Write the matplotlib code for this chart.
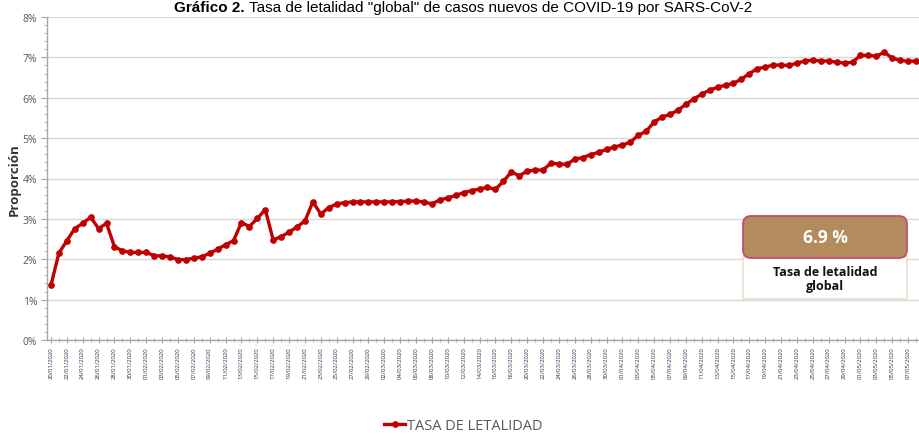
import matplotlib
matplotlib.use('Agg')
import matplotlib.pyplot as plt
import pandas as pd
import numpy as np
from matplotlib.patches import FancyBboxPatch, Rectangle
from matplotlib.ticker import MultipleLocator, FuncFormatter

# ---------------- data ----------------
dates = pd.date_range('2020-01-20', periods=110, freq='D')
date_labels = [d.strftime('%d/%m/%Y') for d in dates]

tasa = [
    1.36, 2.15, 2.46, 2.76, 2.89, 3.04, 2.76, 2.89, 2.31, 2.21,
    2.17, 2.17, 2.17, 2.09, 2.08, 2.06, 1.99, 1.99, 2.03, 2.06,
    2.15, 2.25, 2.36, 2.46, 2.91, 2.81, 3.01, 3.23, 2.48, 2.56,
    2.67, 2.80, 2.95, 3.42, 3.12, 3.28, 3.37, 3.40, 3.42, 3.42,
    3.42, 3.42, 3.42, 3.42, 3.43, 3.44, 3.44, 3.42, 3.37, 3.47,
    3.52, 3.58, 3.65, 3.70, 3.74, 3.78, 3.73, 3.93, 4.16, 4.07,
    4.18, 4.21, 4.21, 4.38, 4.36, 4.35, 4.48, 4.52, 4.59, 4.65,
    4.72, 4.78, 4.83, 4.90, 5.07, 5.17, 5.40, 5.52, 5.59, 5.69,
    5.84, 5.97, 6.09, 6.19, 6.26, 6.31, 6.36, 6.46, 6.60, 6.72,
    6.76, 6.81, 6.81, 6.80, 6.86, 6.91, 6.93, 6.91, 6.91, 6.88,
    6.86, 6.88, 7.05, 7.05, 7.03, 7.13, 6.98, 6.93, 6.90, 6.91,
]
series_name = 'TASA DE LETALIDAD'
title_bold = 'Gráfico 2.'
title_rest = ' Tasa de letalidad "global" de casos nuevos de COVID-19 por SARS-CoV-2'
y_label = 'Proporción'
box_caption = 'Tasa de letalidad\nglobal'
y_max = 8

# ---------------- figure ----------------
plt.rcParams['font.family'] = ['Open Sans', 'DejaVu Sans']
W, H = 9.2, 4.35
fig = plt.figure(figsize=(W, H), dpi=100)
ax = fig.add_axes([47 / 920, 1 - 341 / 435, 873 / 920, (341 - 18) / 435])

x = np.arange(len(tasa))
ax.plot(x, tasa, color='#C00000', lw=2.4, marker='o', ms=3.8,
        label=series_name, zorder=3, clip_on=False)

ax.set_xlim(-0.5, 109.5)
ax.set_ylim(0, y_max)
ax.yaxis.set_major_locator(MultipleLocator(1))
ax.yaxis.set_minor_locator(MultipleLocator(0.2))
ax.yaxis.set_major_formatter(FuncFormatter(lambda v, p: f'{v:.0f}%'))
ax.set_xticks(x[::2])
ax.set_xticklabels(date_labels[::2], rotation=90)
ax.set_xticks(x, minor=True)

ax.grid(axis='y', which='major', color='#d9d9d9', lw=1)
ax.set_axisbelow(True)
for s in ['top', 'right']:
    ax.spines[s].set_visible(False)
for s in ['left', 'bottom']:
    ax.spines[s].set_color('#a6a6a6')
    ax.spines[s].set_linewidth(1)

ax.tick_params(axis='y', which='major', length=4, color='#a6a6a6',
               labelsize=7.5, labelcolor='#595959', pad=3)
ax.tick_params(axis='y', which='minor', length=2.5, color='#a6a6a6')
ax.tick_params(axis='x', which='major', direction='inout', length=5,
               color='#a6a6a6', labelsize=4.3, labelcolor='#2e2e50', pad=2)
ax.tick_params(axis='x', which='minor', direction='inout', length=3,
               color='#a6a6a6')

ax.set_ylabel(y_label, fontsize=9.5, fontweight='bold', color='#333333')
ax.yaxis.set_label_coords((21 - 47) / 873, 0.5)

# legend
fig.legend(loc='center', bbox_to_anchor=(463 / 920, 1 - 427 / 435),
           frameon=False, fontsize=10.5, handlelength=1.5, handletextpad=0.1,
           labelcolor='#595959')

# ---------------- summary box ----------------
inch = fig.dpi_scale_trans
low = Rectangle((7.43, 1.35), 1.64, 0.42, transform=inch, facecolor='white',
                edgecolor='#eadfcb', lw=1.2, zorder=5)
fig.patches.append(low)
top = FancyBboxPatch((7.43, 1.76), 1.64, 0.42, transform=inch,
                     boxstyle='round,pad=0,rounding_size=0.08',
                     facecolor='#b38b5d', edgecolor='#c2506a', lw=1.3, zorder=6)
fig.patches.append(top)
fig.text(8.25, 1.97, f'{tasa[-1]:.1f} %', transform=inch, ha='center',
         va='center', color='white', fontsize=12.5, fontweight='bold', zorder=7)
fig.text(8.25, 1.555, box_caption, transform=inch, ha='center', va='center',
         color='#111111', fontsize=9, fontweight='bold', linespacing=1.15,
         zorder=7)

# ---------------- title ----------------
fig.canvas.draw()
r = fig.canvas.get_renderer()
tfam = ['Liberation Sans', 'DejaVu Sans']
tb = fig.text(0, 0, title_bold, fontsize=11, fontweight='bold', family=tfam)
tr = fig.text(0, 0, title_rest, fontsize=11, family=tfam)
wb = tb.get_window_extent(r).width
wr = tr.get_window_extent(r).width
x0 = 463 - (wb + wr) / 2
ybase = 435 - 12
tb.set_transform(None); tr.set_transform(None)
tb.set_position((x0, ybase)); tb.set_va('baseline')
tr.set_position((x0 + wb, ybase)); tr.set_va('baseline')

fig.savefig('out.png', dpi=100)
